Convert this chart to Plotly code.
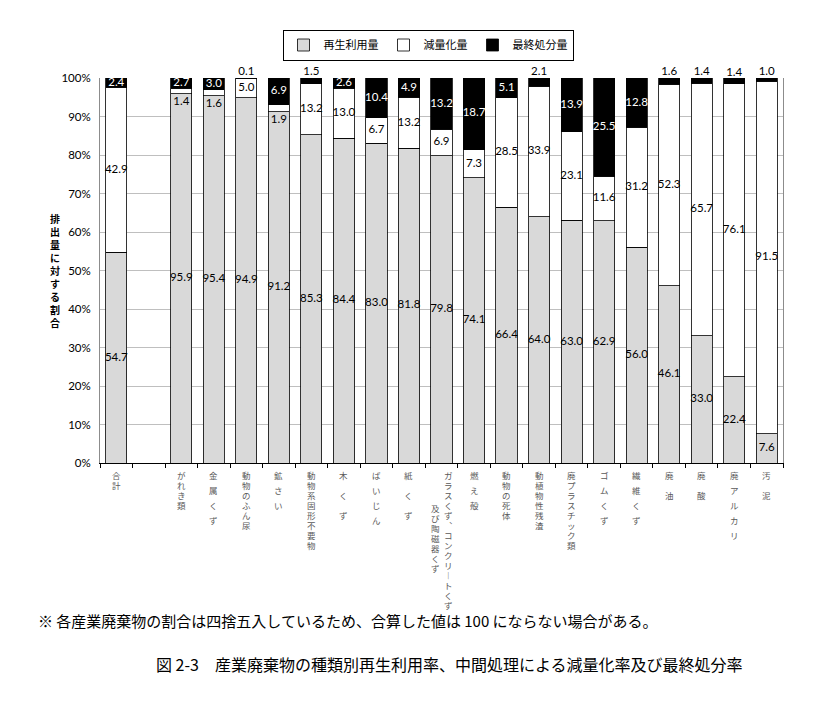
import plotly.graph_objects as go

# Data (percent of discharge amount)
categories = ["合計", "がれき類", "金属くず", "動物のふん尿", "鉱さい", "動物系固形不要物",
              "木くず", "ばいじん", "紙くず", "ガラスくず、コンクリートくず及び陶磁器くず",
              "燃え殻", "動物の死体", "動植物性残渣", "廃プラスチック類", "ゴムくず",
              "繊維くず", "廃油", "廃酸", "廃アルカリ", "汚泥"]

# tick labels as written on the chart (spaces = spacing, \n = second column)
tick_labels = ["合計", "がれき類", "金 属 く ず", "動物のふん尿", "鉱 さ い", "動物系固形不要物",
               "木　く　ず", "ば い じ ん", "紙　く　ず",
               "ガラスくず、コンクリートくず\n及び陶磁器くず",
               "燃 え 殻", "動物の死体", "動植物性残渣", "廃プラスチック類", "ゴ ム く ず",
               "繊 維 く ず", "廃　油", "廃　酸", "廃 ア ル カ リ", "汚　泥"]

recycle = [54.7, 95.9, 95.4, 94.9, 91.2, 85.3, 84.4, 83.0, 81.8, 79.8,
           74.1, 66.4, 64.0, 63.0, 62.9, 56.0, 46.1, 33.0, 22.4, 7.6]
reduction = [42.9, 1.4, 1.6, 5.0, 1.9, 13.2, 13.0, 6.7, 13.2, 6.9,
             7.3, 28.5, 33.9, 23.1, 11.6, 31.2, 52.3, 65.7, 76.1, 91.5]
final = [2.4, 2.7, 3.0, 0.1, 6.9, 1.5, 2.6, 10.4, 4.9, 13.2,
         18.7, 5.1, 2.1, 13.9, 25.5, 12.8, 1.6, 1.4, 1.4, 1.0]

series_names = ["再生利用量", "減量化量", "最終処分量"]
y_ticks = [0, 10, 20, 30, 40, 50, 60, 70, 80, 90, 100]

# slot positions: one empty slot after 合計
positions = [0] + list(range(2, len(categories) + 1))

# page body has an 8px margin, so the figure is drawn 8px in from the window corner
OFF = 8
W, H = 827 - OFF, 702 - OFF
L, R, T, B = 100 - OFF, 44, 78 - OFF, 239
PW, PH = W - L - R, H - T - B


def paper_x(px):
    return (px - OFF - L) / PW


def paper_y(py):
    return (H - B - (py - OFF)) / PH


fig = go.Figure()

line = dict(color="#000000", width=0.8)
fig.add_trace(go.Bar(x=positions, y=recycle, name=series_names[0], width=0.65,
                     marker=dict(color="#d9d9d9", line=line), customdata=categories,
                     hovertemplate="%{customdata}<br>%{y}%<extra></extra>"))
fig.add_trace(go.Bar(x=positions, y=reduction, name=series_names[1], width=0.65,
                     marker=dict(color="#ffffff", line=line), customdata=categories,
                     hovertemplate="%{customdata}<br>%{y}%<extra></extra>"))
fig.add_trace(go.Bar(x=positions, y=final, name=series_names[2], width=0.65,
                     marker=dict(color="#000000", line=line), customdata=categories,
                     hovertemplate="%{customdata}<br>%{y}%<extra></extra>"))

# data labels
dark_x, dark_y, dark_t = [], [], []
light_x, light_y, light_t = [], [], []
top_x, top_y, top_t = [], [], []
for p, r, m, f in zip(positions, recycle, reduction, final):
    dark_x.append(p); dark_y.append(r / 2); dark_t.append(f"{r:.1f}")
    dark_x.append(p); dark_t.append(f"{m:.1f}")
    dark_y.append(r - 2.2 if m < 2.5 else r + m / 2)
    if f < 2.3:
        top_x.append(p); top_y.append(min(r + m + f, 100)); top_t.append(f"{f:.1f}")
    else:
        light_x.append(p); light_y.append(r + m + f / 2); light_t.append(f"{f:.1f}")

lab_font = dict(family="Lato, Noto Sans, sans-serif", size=11.5)
fig.add_trace(go.Scatter(x=dark_x, y=dark_y, text=dark_t, mode="text", cliponaxis=False,
                         textfont=dict(color="#000000", **lab_font),
                         showlegend=False, hoverinfo="skip"))
fig.add_trace(go.Scatter(x=light_x, y=light_y, text=light_t, mode="text", cliponaxis=False,
                         textfont=dict(color="#ffffff", **lab_font),
                         showlegend=False, hoverinfo="skip"))
fig.add_trace(go.Scatter(x=top_x, y=top_y, text=top_t, mode="text", cliponaxis=False,
                         textposition="top center",
                         textfont=dict(color="#000000", **lab_font),
                         showlegend=False, hoverinfo="skip"))

# vertical category labels: one character per line; the line height sets the spacing
vert = {"ー": "︱", "、": "︑"}
annotations = []
for p, lab in zip(positions, tick_labels):
    cols = lab.split("\n")
    n = len(cols)
    step = 20 if "　" in lab else (15 if " " in lab else 10)
    fsize = step / 1.3
    for j, col in enumerate(cols):
        chars = [vert.get(c, c) for c in col if c not in " 　"]
        txt = "<br>".join(f"<span style='font-size:8.5px'>{c}</span>" for c in chars)
        annotations.append(dict(x=p, xref="x", y=0, yref="paper", yanchor="top",
                                xanchor="center", text=txt, showarrow=False,
                                xshift=(n - 1) / 2 * 13 - j * 13,
                                yshift=-(5 + 33 * j), borderpad=0,
                                font=dict(family="Noto Sans CJK JP", size=fsize,
                                          color="#5a5a5a")))

# y axis title, stacked vertically
annotations.append(dict(x=paper_x(55), y=paper_y(270), xref="paper", yref="paper",
                        text="<b>" + "<br>".join("排出量に対する割合") + "</b>", showarrow=False,
                        font=dict(family="Noto Sans CJK JP", size=10, color="#000000"),
                        xanchor="center", yanchor="middle"))
annotations.append(dict(x=paper_x(36), y=paper_y(620), xref="paper", yref="paper",
                        text="※ 各産業廃棄物の割合は四捨五入しているため、合算した値は 100 にならない場合がある。",
                        showarrow=False, xanchor="left", yanchor="middle",
                        font=dict(family="Noto Sans CJK JP", size=15, color="#000000")))
annotations.append(dict(x=paper_x(449), y=paper_y(664), xref="paper", yref="paper",
                        text="図 2-3　産業廃棄物の種類別再生利用率、中間処理による減量化率及び最終処分率",
                        showarrow=False, xanchor="center", yanchor="middle",
                        font=dict(family="Noto Sans CJK JP", size=16, color="#000000")))

fig.update_layout(
    width=W, height=H,
    margin=dict(l=L, r=R, t=T, b=B, autoexpand=False),
    barmode="stack",
    bargap=0.35,
    plot_bgcolor="#ffffff",
    paper_bgcolor="#ffffff",
    font=dict(family="Noto Sans CJK JP", color="#000000"),
    showlegend=True,
    legend=dict(orientation="h", x=paper_x(428), y=paper_y(45), xanchor="center",
                yanchor="middle", bordercolor="#000000", borderwidth=1,
                itemwidth=30, font=dict(size=11), traceorder="normal"),
    annotations=annotations,
)

fig.update_xaxes(range=[-0.5, len(categories) + 0.5], showgrid=False, zeroline=False,
                 tickmode="array", tickvals=[i - 0.5 for i in range(len(categories) + 2)],
                 showticklabels=False, ticks="outside", ticklen=4, tickcolor="#000000",
                 showline=True, linecolor="#000000", linewidth=1)
fig.update_yaxes(range=[0, 100], tickmode="array", tickvals=y_ticks,
                 ticktext=[f"{v}%" for v in y_ticks], showgrid=True, gridcolor="#bfbfbf",
                 gridwidth=1, zeroline=False, showline=True, linecolor="#8c8c8c",
                 mirror=True, ticks="", ticklabelstandoff=6,
                 tickfont=dict(family="Lato, Noto Sans, sans-serif", size=11.5, color="#000000"))

fig.write_html("out.html")
